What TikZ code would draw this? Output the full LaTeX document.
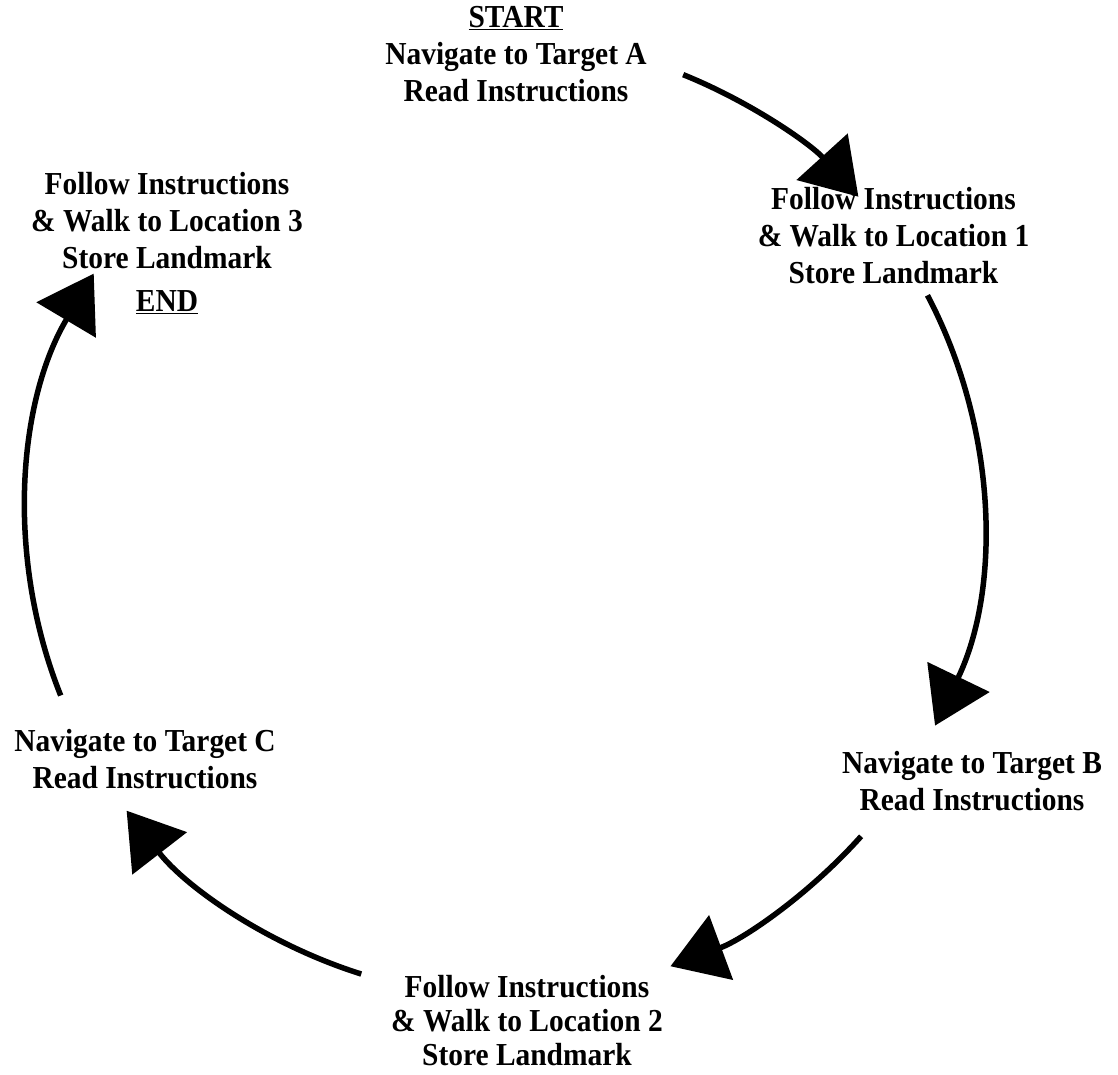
\documentclass[tikz,border=0pt]{standalone}
\usepackage{fontspec}
\newfontfamily\labfont[FakeStretch=0.92]{Liberation Serif}
\usetikzlibrary{arrows.meta,calc}
\begin{document}
\begin{tikzpicture}[x=1pt,y=-1pt,
  lab/.style={align=center, inner sep=0pt, anchor=base,
    font=\labfont\bfseries\fontsize{32}{37}\selectfont},
  flow/.style={line width=5.5pt, -{Triangle[length=54pt,width=68pt]}}]
\useasboundingbox (0,0) rectangle (1118,1074);
\coordinate (ctr) at (504.5,518);
% labels (anchored at the baseline of the last line)
\node[lab] (tA) at (516,101.7) {\underline{START}\\Navigate to Target A\\Read Instructions};
\node[lab] (loc1) at (893.5,283) {Follow Instructions\\\& Walk to Location 1\\Store Landmark};
\node[lab] (tB) at (972,810) {Navigate to Target B\\Read Instructions};
\node[lab, font=\labfont\bfseries\fontsize{32}{34}\selectfont] (loc2) at (527,1065) {Follow Instructions\\\& Walk to Location 2\\Store Landmark};
\node[lab] (tC) at (145,788) {Navigate to Target C\\Read Instructions};
\node[lab] (loc3) at (167,311.7) {Follow Instructions\\\& Walk to Location 3\\Store Landmark\\[6pt]\underline{END}};
% arc end points
\coordinate (a1) at ($(ctr)+(-68.05:478)$);
\coordinate (a2) at ($(ctr)+(-27.77:478)$);
\coordinate (a3) at ($(ctr)+(41.75:478)$);
\coordinate (a4) at ($(ctr)+(107.44:478)$);
\coordinate (a5) at ($(ctr)+(158.2:478)$);
% connectors
\draw[flow] (a1) arc[start angle=-68.05, end angle=-42.24, radius=478];
\draw[flow] (a2) arc[start angle=-27.77, end angle=25.74, radius=478];
\draw[flow] (a3) arc[start angle=41.75, end angle=69.68, radius=478];
\draw[flow] (a4) arc[start angle=107.44, end angle=142.24, radius=478];
\draw[flow] (a5) arc[start angle=158.2, end angle=210.75, radius=478];
\end{tikzpicture}
\end{document}
